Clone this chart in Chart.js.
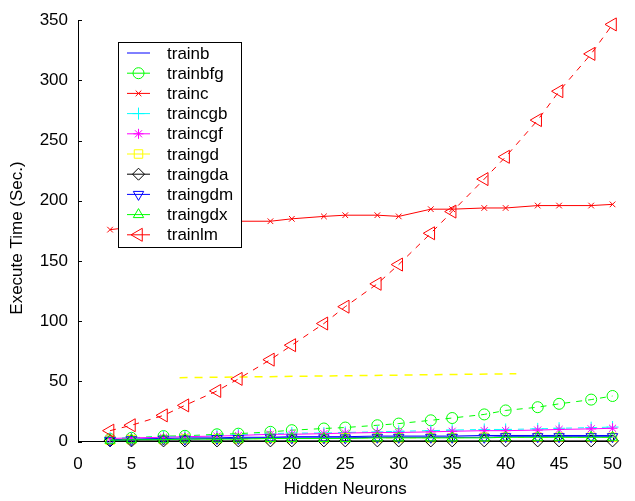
<!DOCTYPE html>
<html>
<head>
<meta charset="utf-8">
<script src="https://cdn.jsdelivr.net/npm/chart.js@4.4.1/dist/chart.umd.min.js"></script>
<style>
  html, body { margin: 0; padding: 0; background: #fff; }
  #chart { display: block; }
</style>
</head>
<body>
<canvas id="chart" width="635" height="501"></canvas>
<script>
/* --- Data ---------------------------------------------------------------- */
const neurons  = [3, 5, 8, 10, 13, 15, 18, 20, 23, 25, 28, 30, 33, 35, 38, 40, 43, 45, 48, 50];

const trainb   = [1.5, 2, 2.5, 3, 3, 3.5, 3.5, 4, 4, 4, 4.5, 4.5, 4.5, 4.5, 5, 5, 5, 5, 5, 5];
const trainbfg = [2, 3, 4.5, 4.7, 6, 6.5, 8, 9.4, 10.8, 11.6, 13.5, 14.9, 17.6, 19.5, 22.5, 25.8, 28.5, 31.3, 34.8, 37.8];
const trainc   = [176, 178, 180, 181, 182, 183, 183, 185, 187, 188, 188, 187, 193, 193, 194, 194, 196, 196, 196, 197];
const traincgb = [3, 3, 4, 4, 5, 5.5, 6.5, 7, 7, 7.5, 8, 8.5, 9, 9.5, 10, 10, 10.5, 11, 11.5, 12];
const traincgf = [2.5, 3, 3.5, 4, 4.5, 5, 6, 6, 6.5, 7, 7.5, 7.5, 8, 8.5, 9, 9, 9.5, 10, 10.5, 11];
const traingd  = [1, 1.5, 1.5, 2, 2, 2, 2.5, 2.5, 2.5, 3, 3, 3, 3, 3, 3.5, 3.5, 3.5, 3.5, 3.5, 3.5];
const traingda = [0.5, 0.5, 0.5, 0.5, 0.5, 0.5, 0.5, 0.5, 0.5, 0.5, 0.5, 0.5, 0.5, 0.5, 0.5, 0.5, 0.5, 0.5, 0.5, 0.5];
const traingdm = [1, 1.5, 2, 2, 2.5, 2.5, 3, 3, 3, 3, 3.5, 3.5, 3.5, 3.5, 3.5, 4, 4, 4, 4, 4];
const traingdx = [1, 1.5, 1.5, 2, 2, 2, 2.5, 2.5, 2.5, 2.5, 3, 3, 3, 3, 3, 3.5, 3.5, 3.5, 3.5, 3.5];
const trainlm  = [9, 13.5, 21.7, 30, 42, 52, 68, 80, 98, 112, 131, 147, 173, 191, 218, 236.5, 267, 291, 322, 346.5];

// stray yellow dashed segment seen in the figure
const strayX = [9.5, 41];
const strayY = [53, 56.3];

const xTicks = [0, 5, 10, 15, 20, 25, 30, 35, 40, 45, 50];
const yTicks = [0, 50, 100, 150, 200, 250, 300, 350];

const xTitle = 'Hidden Neurons';
const yTitle = 'Execute Time (Sec.)';

/* --- Styles -------------------------------------------------------------- */
const series = [
  { name: 'trainb',   vals: trainb,   color: '#0000ff', style: false,       r: 0,   rot: 0,   dash: [] },
  { name: 'trainbfg', vals: trainbfg, color: '#00ff00', style: 'circle',    r: 5.5, rot: 0,   dash: [6, 6] },
  { name: 'trainc',   vals: trainc,   color: '#ff0000', style: 'crossRot',  r: 4,   rot: 0,   dash: [] },
  { name: 'traincgb', vals: traincgb, color: '#00ffff', style: 'cross',     r: 6,   rot: 0,   dash: [6, 6] },
  { name: 'traincgf', vals: traincgf, color: '#ff00ff', style: 'star',      r: 5,   rot: 0,   dash: [] },
  { name: 'traingd',  vals: traingd,  color: '#ffff00', style: 'rect',      r: 6,   rot: 0,   dash: [6, 6] },
  { name: 'traingda', vals: traingda, color: '#000000', style: 'rectRot',   r: 6,   rot: 0,   dash: [] },
  { name: 'traingdm', vals: traingdm, color: '#0000ff', style: 'triangle',  r: 6,   rot: 180, dash: [] },
  { name: 'traingdx', vals: traingdx, color: '#00ff00', style: 'triangle',  r: 6,   rot: 0,   dash: [] },
  { name: 'trainlm',  vals: trainlm,  color: '#ff0000', style: 'triangle',  r: 7.5, rot: -90, dash: [6, 6] }
];

const FONT = "'Liberation Sans', Arial, Helvetica, sans-serif";
Chart.defaults.font.family = FONT;
Chart.defaults.font.size = 17;
Chart.defaults.color = '#000';

const datasets = series.map((s, i) => ({
  label: s.name,
  data: neurons.map((x, k) => ({ x: x, y: s.vals[k] })),
  borderColor: s.color,
  borderWidth: 1,
  borderDash: s.dash,
  pointStyle: s.style,
  pointRadius: s.r,
  pointRotation: s.rot,
  pointBorderColor: s.color,
  pointBackgroundColor: 'rgba(0,0,0,0)',
  pointBorderWidth: 1,
  tension: 0,
  clip: false,
  order: series.length - i
}));

datasets.push({
  label: '',
  data: strayX.map((x, k) => ({ x: x, y: strayY[k] })),
  borderColor: '#ffff00',
  borderWidth: 1.5,
  borderDash: [8, 7],
  pointRadius: 0,
  order: 20
});

/* --- Plugins ------------------------------------------------------------- */
const innerTicks = {
  id: 'innerTicks',
  beforeDatasetsDraw(chart) {
    const { ctx, chartArea, scales } = chart;
    ctx.save();
    ctx.strokeStyle = '#000';
    ctx.lineWidth = 1;
    ctx.beginPath();
    scales.y.ticks.forEach(t => {
      const py = Math.round(scales.y.getPixelForValue(t.value)) + 0.5;
      ctx.moveTo(chartArea.left, py);
      ctx.lineTo(chartArea.left + 4, py);
    });
    scales.x.ticks.forEach(t => {
      const px = Math.round(scales.x.getPixelForValue(t.value)) + 0.5;
      ctx.moveTo(px, chartArea.bottom);
      ctx.lineTo(px, chartArea.bottom - 4);
    });
    ctx.stroke();
    ctx.restore();
  }
};

// y title sits a little below the middle of the axis in the original
const yTitlePlugin = {
  id: 'yTitlePlugin',
  afterDraw(chart) {
    const ctx = chart.ctx;
    ctx.save();
    ctx.translate(17, 238);
    ctx.rotate(-Math.PI / 2);
    ctx.font = '17px ' + FONT;
    ctx.fillStyle = '#000';
    ctx.textAlign = 'center';
    ctx.textBaseline = 'middle';
    ctx.fillText(yTitle, 0, 0);
    ctx.restore();
  }
};

const legendBox = {
  id: 'legendBox',
  afterDatasetsDraw(chart) {
    const ctx = chart.ctx;
    const left = 118.5, top = 42.5, w = 123, h = 205, rowH = 20.2;
    ctx.save();
    ctx.fillStyle = '#fff';
    ctx.fillRect(left, top, w, h);
    ctx.strokeStyle = '#000';
    ctx.lineWidth = 1;
    ctx.setLineDash([]);
    ctx.strokeRect(left, top, w, h);
    ctx.font = '17px ' + FONT;
    ctx.textBaseline = 'middle';
    series.forEach((s, i) => {
      const y = 53 + i * rowH;
      ctx.strokeStyle = s.color;
      ctx.lineWidth = 1;
      ctx.beginPath();
      ctx.moveTo(127, y);
      ctx.lineTo(150, y);
      ctx.stroke();
      if (s.style) {
        ctx.fillStyle = 'rgba(0,0,0,0)';
        Chart.helpers.drawPoint(ctx, {
          pointStyle: s.style, radius: s.r, rotation: s.rot, borderWidth: 1
        }, 138.5, y);
      }
      ctx.fillStyle = '#000';
      ctx.fillText(s.name, 167, y + 1);
    });
    ctx.restore();
  }
};

/* --- Chart --------------------------------------------------------------- */
new Chart(document.getElementById('chart').getContext('2d'), {
  type: 'line',
  data: { datasets: datasets },
  options: {
    responsive: false,
    animation: false,
    layout: { padding: { left: 0, top: 15, right: 11, bottom: 0 } },
    plugins: { legend: { display: false }, tooltip: { enabled: false } },
    scales: {
      x: {
        type: 'linear', min: 0, max: 50,
        afterBuildTicks: s => { s.ticks = xTicks.map(v => ({ value: v })); },
        afterFit: s => { s.height = 59.5; },
        grid: { drawOnChartArea: false, drawTicks: false },
        border: { display: true, color: '#000', width: 1 },
        ticks: { padding: 13, maxRotation: 0 },
        title: { display: true, text: xTitle, padding: { top: 0, bottom: 1 } }
      },
      y: {
        type: 'linear', min: 0, max: 350,
        afterBuildTicks: s => { s.ticks = yTicks.map(v => ({ value: v })); },
        afterFit: s => { s.width = 78; },
        grid: { drawOnChartArea: false, drawTicks: false },
        border: { display: true, color: '#000', width: 1 },
        ticks: { padding: 10 },
        title: { display: false }
      }
    }
  },
  plugins: [innerTicks, legendBox, yTitlePlugin]
});
</script>
</body>
</html>
